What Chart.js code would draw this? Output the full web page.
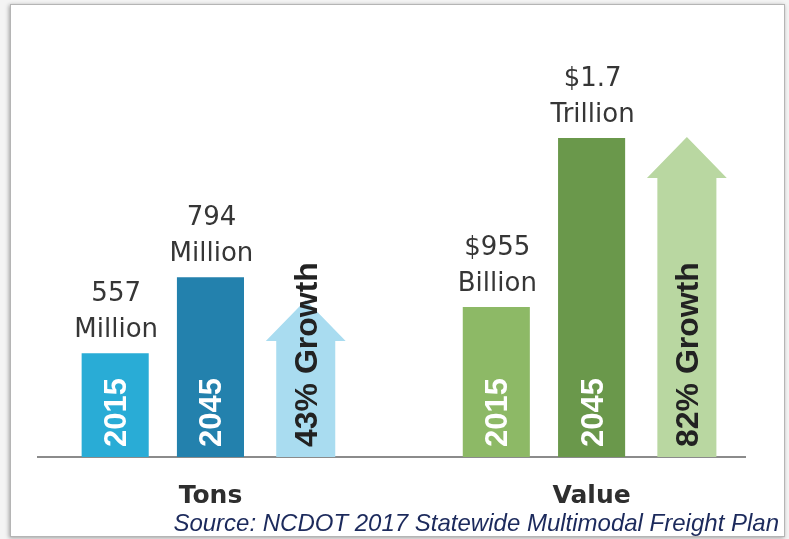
<!DOCTYPE html>
<html>
<head>
<meta charset="utf-8">
<title>NC freight tons and value</title>
<script src="https://cdn.jsdelivr.net/npm/chart.js@4.4.1/dist/chart.umd.min.js"></script>
<style>
  html, body { margin: 0; padding: 0; background: #f4f4f4; }
  #frame {
    position: absolute; left: 10px; top: 4px;
    width: 773px; height: 531px;
    background: #fff;
    border: 1px solid #b5b5b5;
    box-shadow: -1px 1px 4px rgba(0, 0, 0, 0.35);
  }
  canvas { display: block; }
</style>
</head>
<body>
<div id="frame"><canvas id="freight" width="773" height="531"></canvas></div>
<script>
// data
const groups = ['Tons', 'Value'];
const years = ['2015', '2045'];
const tonsMillions = [557, 794];
const valueBillions = [955, 1700];
const growthPct = [43, 82];
const tonsText = [['557', 'Million'], ['794', 'Million']];
const valueText = [['$955', 'Billion'], ['$1.7', 'Trillion']];
const sourceNote = 'Source: NCDOT 2017 Statewide Multimodal Freight Plan';

const tonsColors = ['#29acd6', '#2381ad'];
const valueColors = ['#8db966', '#6a984b'];
const arrowColors = ['#a9dcf0', '#b9d7a1'];

// each group takes 4 slots: 2015, 2045, arrow, gap
const slot = (g, k) => g * 4 + k;

// arrows, year labels and value labels
const decor = {
  id: 'decor',
  afterDatasetsDraw(chart) {
    const ctx = chart.ctx;
    const floor = chart.chartArea.bottom; // axes don't start at 0, bars are clipped here
    ctx.save();

    // growth arrows
    chart.getDatasetMeta(2).data.forEach((bar, g) => {
      const p = bar.getProps(['x', 'y', 'width'], true);
      const shaft = p.width * 0.88;
      const head = p.width * 1.19;
      const headH = 41;
      ctx.fillStyle = arrowColors[g];
      ctx.beginPath();
      ctx.moveTo(p.x - shaft / 2, floor);
      ctx.lineTo(p.x - shaft / 2, p.y + headH);
      ctx.lineTo(p.x - head / 2, p.y + headH);
      ctx.lineTo(p.x, p.y);
      ctx.lineTo(p.x + head / 2, p.y + headH);
      ctx.lineTo(p.x + shaft / 2, p.y + headH);
      ctx.lineTo(p.x + shaft / 2, floor);
      ctx.closePath();
      ctx.fill();

      ctx.save();
      ctx.translate(p.x + 11, floor - 10);
      ctx.rotate(-Math.PI / 2);
      ctx.font = 'bold 32px "Liberation Sans", Arial, sans-serif';
      ctx.fillStyle = '#222';
      ctx.textAlign = 'left';
      ctx.textBaseline = 'alphabetic';
      ctx.fillText(growthPct[g] + '% Growth', 0, 0);
      ctx.restore();
    });

    // years inside bars + labels above
    [[0, tonsText], [1, valueText]].forEach(([di, texts]) => {
      chart.getDatasetMeta(di).data.forEach((bar, k) => {
        const p = bar.getProps(['x', 'y'], true);
        ctx.save();
        ctx.translate(p.x + 11, floor - 10);
        ctx.rotate(-Math.PI / 2);
        ctx.font = 'bold 31px "Liberation Sans", Arial, sans-serif';
        ctx.fillStyle = '#fff';
        ctx.textAlign = 'left';
        ctx.textBaseline = 'alphabetic';
        ctx.fillText(years[k], 0, 0);
        ctx.restore();

        ctx.font = '26px "DejaVu Sans", sans-serif';
        ctx.fillStyle = '#363636';
        ctx.textAlign = 'center';
        ctx.textBaseline = 'middle';
        ctx.fillText(texts[k][0], p.x + 1, p.y - 59);
        ctx.fillText(texts[k][1], p.x + 1, p.y - 23);
      });
    });

    ctx.restore();
  }
};

new Chart(document.getElementById('freight'), {
  type: 'bar',
  data: {
    datasets: [
      {
        label: 'Tons (million)',
        data: tonsMillions.map((v, k) => ({ x: slot(0, k), y: v })),
        yAxisID: 'yTons',
        backgroundColor: tonsColors
      },
      {
        label: 'Value (billion $)',
        data: valueBillions.map((v, k) => ({ x: slot(1, k), y: v })),
        yAxisID: 'yValue',
        backgroundColor: valueColors
      },
      {
        label: 'Growth (%)',
        data: growthPct.map((v, g) => ({ x: slot(g, 2), y: v })),
        yAxisID: 'yGrowth',
        backgroundColor: 'rgba(0,0,0,0)'
      }
    ]
  },
  options: {
    responsive: false,
    animation: false,
    datasets: {
      bar: { grouped: false, barPercentage: 0.88, categoryPercentage: 0.8 }
    },
    layout: { padding: { left: 27, right: 5, top: 50, bottom: 0 } },
    plugins: {
      legend: { display: false },
      tooltip: { enabled: false },
      title: {
        display: true,
        position: 'bottom',
        align: 'end',
        text: sourceNote,
        color: '#1c2a5c',
        font: { family: '"Liberation Sans", Arial, sans-serif', style: 'italic', weight: 'normal', size: 24, lineHeight: 1 },
        padding: { top: 8, bottom: 0 }
      }
    },
    scales: {
      x: {
        type: 'linear',
        min: -0.81,
        max: 6.61,
        offset: false,
        grid: { display: false, drawTicks: false },
        border: { display: true, color: '#8b8b8b', width: 2 },
        afterBuildTicks: s => { s.ticks = groups.map((_, g) => ({ value: slot(g, 1) })); },
        afterFit: s => { s.height = 47; },
        ticks: {
          autoSkip: false,
          maxRotation: 0,
          padding: 24,
          color: '#2e2e2e',
          font: { family: '"DejaVu Sans", sans-serif', weight: 'bold', size: 25 },
          callback: v => groups[(v - 1) / 4]
        }
      },
      yTons: { display: false, min: 233, max: 1487 },
      yValue: { display: false, min: 294, max: 2066 },
      yGrowth: {
        position: 'right',
        min: 5.4,
        max: 101.6,
        ticks: { display: false },
        grid: { display: false },
        border: { display: false },
        afterFit: s => { s.width = 34; }
      }
    }
  },
  plugins: [decor]
});
</script>
</body>
</html>
